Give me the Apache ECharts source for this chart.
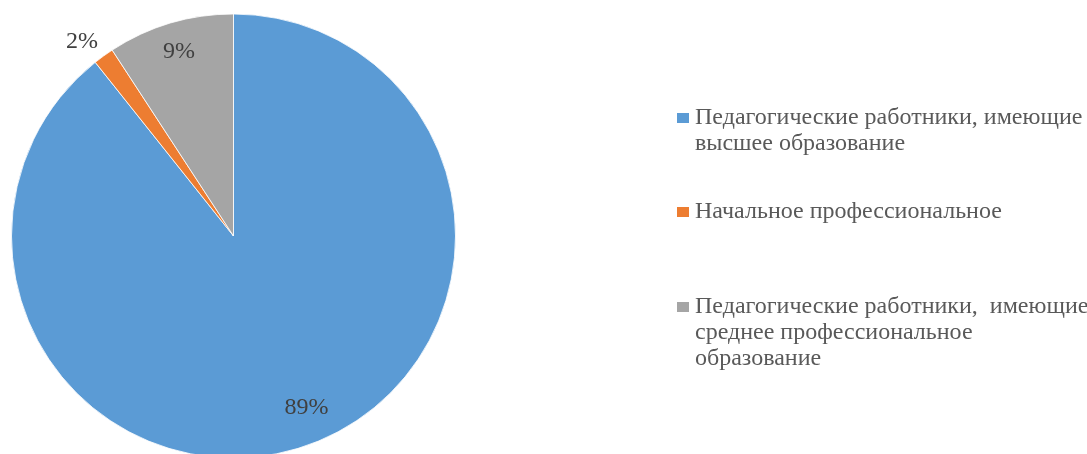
<!DOCTYPE html>
<html>
<head>
<meta charset="utf-8">
<script src="https://cdn.jsdelivr.net/npm/echarts@6/dist/echarts.min.js"></script>
<style>
html,body{margin:0;padding:0;background:#fff;}
#chart{width:1087px;height:454px;}
</style>
</head>
<body>
<div id="chart"></div>
<script>
const categories = [
  'Педагогические работники, имеющие высшее образование',
  'Начальное профессиональное',
  'Педагогические работники,  имеющие среднее профессиональное образование'
];
const legendLines = [
  ['Педагогические работники, имеющие', 'высшее образование'],
  ['Начальное профессиональное'],
  ['Педагогические работники,  имеющие', 'среднее профессиональное', 'образование']
];
const values = [89.3, 1.5, 9.2];
const colors = ['#5B9BD5', '#ED7D31', '#A5A5A5'];

const FONT = '"Liberation Serif", "Times New Roman", serif';
const chart = echarts.init(document.getElementById('chart'));

const data = categories.map((c, i) => ({ name: c, value: values[i], itemStyle: { color: colors[i] } }));
const boxKeys = ['b0', 'b1', 'b2'];
const rich = { s: { width: 18 }, g: { width: 6 }, t: { fontSize: 24, lineHeight: 26, color: '#595959', fontFamily: FONT } };
boxKeys.forEach((k, i) => { rich[k] = { width: 12, height: 10, backgroundColor: colors[i] }; });

const legendTops = [101, 195, 290];
const legends = categories.map((c, i) => ({
  data: [c],
  orient: 'vertical',
  left: 667,
  top: legendTops[i],
  icon: 'none',
  itemWidth: 0,
  itemHeight: 0,
  selectedMode: false,
  formatter: function (name) {
    const idx = categories.indexOf(name);
    return legendLines[idx].map((l, j) => (j === 0 ? '{' + boxKeys[idx] + '|}{g|}' : '{s|}') + '{t|' + l + '}').join('\n');
  },
  textStyle: { rich: rich, fontFamily: FONT, fontSize: 24, color: '#595959' }
}));

const labelPos = [
  { position: 'inside', offset: [10, -9] },
  { position: 'outside', offset: [4, -8] },
  { position: 'inside', offset: [0, -1] }
];

chart.setOption({
  animation: false,
  backgroundColor: '#ffffff',
  legend: legends,
  series: [
    {
      type: 'pie',
      center: [233.5, 236],
      radius: [0, 222],
      startAngle: 90,
      clockwise: true,
      silent: true,
      data: data,
      itemStyle: { borderColor: '#ffffff', borderWidth: 0.8 },
      label: { show: false },
      labelLine: { show: false }
    },
    {
      type: 'pie',
      center: [233.5, 236],
      radius: [160, 216],
      startAngle: 90,
      clockwise: true,
      silent: true,
      legendHoverLink: false,
      data: categories.map((c, i) => ({ name: c, value: values[i], label: labelPos[i] })),
      itemStyle: { color: 'rgba(0,0,0,0)' },
      label: {
        show: true,
        fontFamily: FONT,
        fontSize: 24,
        color: '#404040',
        formatter: function (p) { return Math.round(p.percent) + '%'; }
      },
      labelLine: { show: false, length: 14, length2: 0 }
    }
  ]
});
</script>
</body>
</html>
